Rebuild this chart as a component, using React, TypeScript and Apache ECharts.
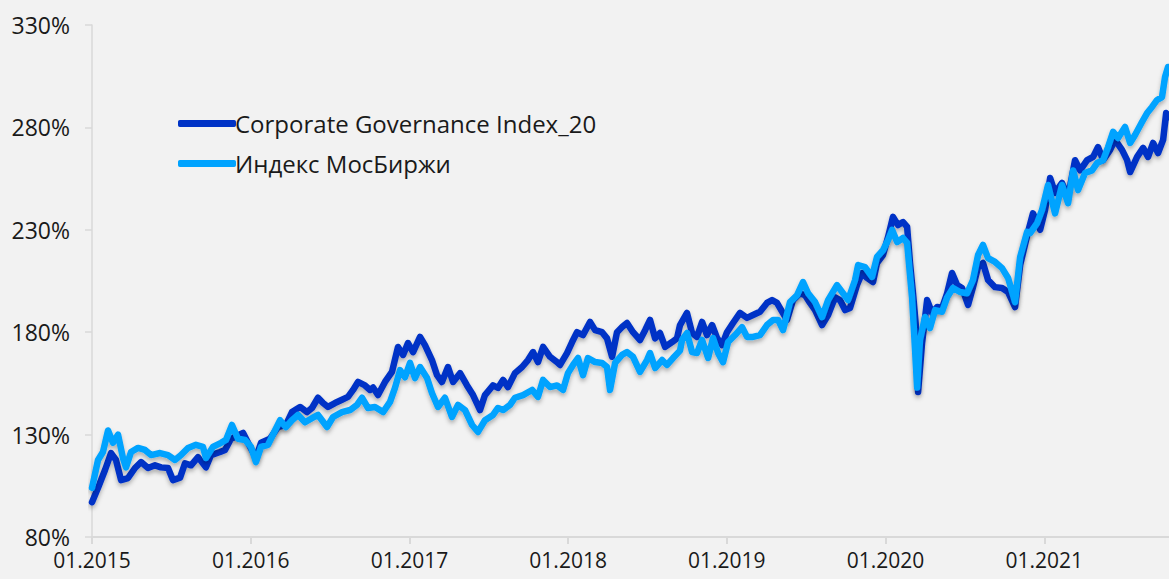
import React, { useEffect, useRef } from "react";
import * as echarts from "echarts";

// Dates as decimal years (2015.0 = start of January 2015)
const cgiYears = [
  2015.000, 2015.038, 2015.082, 2015.120, 2015.151, 2015.183, 2015.227, 2015.271, 2015.309, 2015.353,
  2015.397, 2015.435, 2015.479, 2015.510, 2015.555, 2015.586, 2015.624, 2015.668, 2015.718, 2015.750,
  2015.807, 2015.838, 2015.876, 2015.952, 2015.983, 2016.033, 2016.065, 2016.122, 2016.172, 2016.222,
  2016.260, 2016.311, 2016.355, 2016.386, 2016.424, 2016.456, 2016.487, 2016.531, 2016.575, 2016.613,
  2016.645, 2016.676, 2016.720, 2016.752, 2016.771, 2016.802, 2016.846, 2016.890, 2016.928, 2016.960,
  2016.991, 2017.023, 2017.067, 2017.098, 2017.142, 2017.174, 2017.205, 2017.243, 2017.275, 2017.319,
  2017.363, 2017.401, 2017.445, 2017.476, 2017.527, 2017.558, 2017.590, 2017.621, 2017.665, 2017.710,
  2017.747, 2017.779, 2017.810, 2017.842, 2017.886, 2017.930, 2017.949, 2017.993, 2018.025, 2018.056,
  2018.094, 2018.138, 2018.170, 2018.214, 2018.245, 2018.277, 2018.308, 2018.340, 2018.371, 2018.409,
  2018.453, 2018.485, 2018.516, 2018.548, 2018.579, 2018.611, 2018.655, 2018.686, 2018.705, 2018.749,
  2018.781, 2018.812, 2018.844, 2018.875, 2018.907, 2018.938, 2018.970, 2019.001, 2019.039, 2019.083,
  2019.127, 2019.165, 2019.209, 2019.253, 2019.285, 2019.316, 2019.348, 2019.379, 2019.417, 2019.461,
  2019.493, 2019.524, 2019.556, 2019.600, 2019.638, 2019.682, 2019.713, 2019.745, 2019.776, 2019.820,
  2019.852, 2019.883, 2019.921, 2019.946, 2019.984, 2020.016, 2020.047, 2020.079, 2020.110, 2020.136,
  2020.154, 2020.173, 2020.199, 2020.205, 2020.230, 2020.262, 2020.293, 2020.325, 2020.356, 2020.388,
  2020.419, 2020.451, 2020.482, 2020.520, 2020.551, 2020.583, 2020.614, 2020.646, 2020.690, 2020.734,
  2020.772, 2020.816, 2020.848, 2020.898, 2020.929, 2020.974, 2021.005, 2021.037, 2021.068, 2021.112,
  2021.150, 2021.194, 2021.226, 2021.270, 2021.308, 2021.339, 2021.371, 2021.415, 2021.446, 2021.490,
  2021.522, 2021.541, 2021.585, 2021.623, 2021.654, 2021.686, 2021.717, 2021.749, 2021.768, 2021.786,
];
const cgiValues = [
  97, 104, 112.7, 121, 117.6, 107.8, 108.8, 113.7, 116.6, 113.7,
  115, 114, 113.7, 107.8, 109, 116, 115, 119, 114, 120,
  121.5, 122.5, 128, 130.8, 126, 118.6, 126, 128, 133.7, 134.7,
  141, 143.5, 141, 143, 148, 145.4, 143.5, 145.4, 147, 148.4,
  151.8, 155.7, 154, 151.8, 153, 149.3, 155.7, 160.6, 172.8, 168.9,
  174.7, 170.3, 177.7, 173.7, 166.4, 159, 155.7, 163, 155.7, 160,
  154, 149.3, 142, 149.3, 154, 152.8, 156.7, 153.2, 160, 163,
  166.4, 170.3, 165.4, 172.8, 168, 165.4, 164, 169.8, 175.2, 180,
  178.6, 185, 181, 180, 177, 168, 180, 182.5, 184.5, 180,
  176.2, 181, 186, 177, 179.6, 172.8, 175.2, 177, 183.5, 189.4,
  179.6, 177.7, 185, 178.6, 183.5, 177.2, 173.7, 180, 184.5, 189.4,
  187, 188.4, 190, 194.3, 195.7, 194.3, 190, 186, 195.7, 199,
  198, 194.3, 190.8, 183.5, 188.4, 197, 195.7, 190.8, 191.8, 203,
  208.9, 206.5, 204.5, 213.8, 217.7, 226.5, 236.3, 232.3, 233.8, 231.4,
  213.8, 199, 176.2, 150.8, 174.7, 195.7, 189.4, 192.3, 191.8, 199,
  208.9, 203, 201.6, 193.3, 202, 211.8, 213.8, 205.5, 202, 201.6,
  199.6, 192.3, 212.8, 229, 238, 230, 239.7, 255.3, 248, 252.9,
  246, 264, 259, 264, 265.6, 270.4, 264, 269, 273.9, 269,
  264, 258.2, 265.6, 270, 265.6, 272.4, 267.5, 273.9, 287, 285,
];

const moexYears = [
  2015.000, 2015.038, 2015.069, 2015.101, 2015.132, 2015.164, 2015.195, 2015.214, 2015.246, 2015.290,
  2015.334, 2015.372, 2015.429, 2015.479, 2015.523, 2015.561, 2015.605, 2015.655, 2015.699, 2015.718,
  2015.762, 2015.813, 2015.844, 2015.882, 2015.920, 2015.964, 2016.002, 2016.033, 2016.065, 2016.109,
  2016.153, 2016.185, 2016.222, 2016.260, 2016.298, 2016.342, 2016.386, 2016.424, 2016.481, 2016.519,
  2016.575, 2016.626, 2016.670, 2016.701, 2016.739, 2016.783, 2016.834, 2016.878, 2016.909, 2016.941,
  2016.972, 2017.004, 2017.035, 2017.067, 2017.111, 2017.142, 2017.180, 2017.224, 2017.268, 2017.306,
  2017.350, 2017.395, 2017.432, 2017.476, 2017.527, 2017.558, 2017.590, 2017.634, 2017.665, 2017.716,
  2017.773, 2017.810, 2017.842, 2017.886, 2017.930, 2017.968, 2017.999, 2018.031, 2018.062, 2018.094,
  2018.125, 2018.170, 2018.214, 2018.245, 2018.264, 2018.296, 2018.340, 2018.371, 2018.409, 2018.453,
  2018.497, 2018.516, 2018.548, 2018.592, 2018.623, 2018.661, 2018.705, 2018.718, 2018.749, 2018.781,
  2018.812, 2018.844, 2018.882, 2018.913, 2018.945, 2018.976, 2019.008, 2019.052, 2019.096, 2019.127,
  2019.165, 2019.209, 2019.253, 2019.291, 2019.323, 2019.354, 2019.398, 2019.442, 2019.480, 2019.512,
  2019.556, 2019.600, 2019.638, 2019.694, 2019.732, 2019.764, 2019.808, 2019.827, 2019.871, 2019.915,
  2019.946, 2019.984, 2020.016, 2020.041, 2020.073, 2020.110, 2020.136, 2020.167, 2020.186, 2020.199,
  2020.217, 2020.249, 2020.280, 2020.312, 2020.356, 2020.388, 2020.425, 2020.469, 2020.514, 2020.551,
  2020.583, 2020.614, 2020.646, 2020.690, 2020.734, 2020.772, 2020.816, 2020.848, 2020.892, 2020.911,
  2020.955, 2020.986, 2021.024, 2021.068, 2021.112, 2021.150, 2021.182, 2021.213, 2021.257, 2021.301,
  2021.333, 2021.371, 2021.402, 2021.434, 2021.465, 2021.509, 2021.541, 2021.572, 2021.616, 2021.648,
  2021.679, 2021.711, 2021.742, 2021.761, 2021.780,
];
const moexValues = [
  104, 117.6, 121.5, 132, 126, 130, 118.6, 114, 121.5, 123.5,
  122.5, 120, 121, 120, 117.6, 120, 123.5, 125, 124, 118.6,
  124, 126, 127.4, 134.7, 128, 127.4, 124, 116.6, 124, 125,
  132, 137, 133.7, 137, 139.6, 136, 138, 139.6, 133.7, 138.6,
  141, 142, 144.5, 148, 143, 143.5, 141, 146, 152.8, 161.5,
  158, 165, 157.6, 163, 157.6, 150.3, 143.5, 148, 138.6, 144.5,
  142, 134.7, 131.3, 137, 139.6, 143, 142, 144.5, 148, 149.3,
  151.8, 148.4, 156.7, 153.2, 154, 151.8, 160, 164, 167.4, 159,
  167.4, 165.4, 165, 163, 151.8, 165, 168.9, 170.3, 168, 160.6,
  166.4, 169.8, 162.5, 166.4, 164, 167.4, 171, 176.2, 179.6, 170.3,
  169.8, 176.2, 167.4, 177.2, 169.8, 165.4, 175.2, 178.6, 182.5, 177.7,
  177.7, 178.6, 183.5, 186, 186, 181, 194.7, 198, 204.5, 199,
  194.7, 187.4, 195.7, 203, 199, 195.7, 205.5, 212.8, 211.8, 207,
  216.7, 220, 225, 230, 224, 226, 223.6, 197, 171.3, 153,
  176.2, 187.4, 182, 190.8, 190, 197, 201.6, 199.6, 199, 205.5,
  217.7, 222.6, 216.2, 214.3, 211.3, 206.5, 194.7, 216.7, 229, 228.4,
  233.3, 239.7, 251.9, 238, 251.9, 243, 259, 249.4, 257.7, 259,
  262.6, 264, 270.4, 277.8, 274.8, 280.2, 272.4, 276.3, 282.6, 287,
  290, 293.4, 294.8, 304.6, 309.5,
];

const seriesNames = ["Corporate Governance Index_20", "Индекс МосБиржи"];
const yTicks = [80, 130, 180, 230, 280, 330];
const xTicks = [2015, 2016, 2017, 2018, 2019, 2020, 2021];

const FONT = "'Open Sans', 'Noto Sans', sans-serif";

export default function App() {
  const ref = useRef<HTMLDivElement>(null);

  useEffect(() => {
    document.body.style.margin = "0";
    document.body.style.background = "#f2f2f2";
    const chart = echarts.init(ref.current!, undefined, { renderer: "svg" });
    const pair = (xs: number[], ys: number[]) => xs.map((x, i) => [x, ys[i]]);
    const shadow = {
      shadowColor: "rgba(0,0,0,0.28)",
      shadowBlur: 4,
      shadowOffsetY: 3,
    };
    chart.setOption({
      animation: false,
      backgroundColor: "#f2f2f2",
      textStyle: { fontFamily: FONT },
      grid: { left: 92, right: 0, top: 25, bottom: 42, containLabel: false },
      legend: {
        orient: "vertical",
        left: 173,
        top: 106,
        itemWidth: 58,
        itemHeight: 7,
        itemGap: 15,
        icon: "roundRect",
        textStyle: { fontSize: 24, lineHeight: 25, color: "#1a1a1a", fontFamily: FONT, padding: [0, 0, 0, -6] },
        data: seriesNames,
      },
      xAxis: {
        type: "value",
        min: 2015,
        max: 2021.786,
        splitLine: { show: false },
        axisLine: { show: true, lineStyle: { color: "#d9d9d9", width: 2 } },
        axisTick: { show: true, length: 7, customValues: xTicks, lineStyle: { color: "#d9d9d9", width: 2 } },
        axisLabel: {
          customValues: xTicks,
          formatter: (v: number) => "01." + Math.round(v),
          fontSize: 21,
          color: "#1a1a1a",
          margin: 12,
          fontFamily: FONT,
        },
      },
      yAxis: {
        type: "value",
        min: 80,
        max: 330,
        splitLine: { show: false },
        axisLine: { show: true, lineStyle: { color: "#d9d9d9", width: 1.5 } },
        axisTick: { show: true, length: 7, customValues: yTicks, lineStyle: { color: "#d9d9d9", width: 1.5 } },
        axisLabel: {
          customValues: yTicks,
          formatter: (v: number) => v + "%",
          fontSize: 23,
          color: "#1a1a1a",
          margin: 22,
          fontFamily: FONT,
        },
      },
      series: [
        {
          name: seriesNames[0],
          type: "line",
          showSymbol: false,
          symbol: "none",
          data: pair(cgiYears, cgiValues),
          color: "#0033c6",
          lineStyle: { width: 6.5, color: "#0033c6", cap: "round", join: "round", ...shadow },
          itemStyle: { color: "#0033c6" },
        },
        {
          name: seriesNames[1],
          type: "line",
          showSymbol: false,
          symbol: "none",
          data: pair(moexYears, moexValues),
          color: "#00a3ff",
          lineStyle: { width: 6.5, color: "#00a3ff", cap: "round", join: "round", ...shadow },
          itemStyle: { color: "#00a3ff" },
        },
      ],
    });
    return () => chart.dispose();
  }, []);

  return (
    <div
      ref={ref}
      style={{ position: "fixed", left: 0, top: 0, width: 1169, height: 579 }}
    />
  );
}
